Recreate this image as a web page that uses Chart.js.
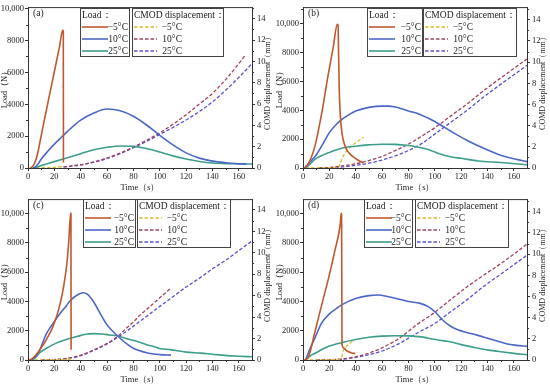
<!DOCTYPE html>
<html>
<head>
<meta charset="utf-8">
<script src="https://cdn.jsdelivr.net/npm/chart.js@4.4.1/dist/chart.umd.min.js"></script>
<style>
  html, body { margin: 0; padding: 0; background: #fff; }
  #wrap { position: relative; width: 550px; height: 384px; }
  canvas { position: absolute; }
</style>
</head>
<body>
<div id="wrap">
  <canvas id="chartA" width="275" height="192" style="left:0;top:0"></canvas>
  <canvas id="chartB" width="275" height="192" style="left:275px;top:0"></canvas>
  <canvas id="chartC" width="275" height="192" style="left:0;top:192px"></canvas>
  <canvas id="chartD" width="275" height="192" style="left:275px;top:192px"></canvas>
</div>
<script>
// legend labels and tick values
const tempLabels = ["\u22125°C", "10°C", "25°C"];
const timeTicks = [0, 20, 40, 60, 80, 100, 120, 140, 160];
const loadTicks = [0, 2000, 4000, 6000, 8000, 10000];
const cmodTicks = [0, 2, 4, 6, 8, 10, 12, 14];

// (a)
const aTimeM5 = [1.5,3,5,7,9,12,15,18,21,24,26.3,26.8,26.9];
const aLoadM5 = [0,60,300,800,1600,2850,4050,5250,6450,7650,8650,8600,350];
const aTimeCmodM5 = [2,10,20,27];
const aCmodM5 = [0,0.02,0.06,0.15];
const aTime10 = [4,6,8,10,15,20,25,30,40,50,60,70,80,90,100,110,120,130,140,150,160,166];
const aLoad10 = [0,100,300,550,1050,1500,1900,2300,3000,3450,3700,3600,3250,2700,2050,1450,950,620,430,330,270,250];
const aTime25 = [5,10,20,30,40,50,60,70,80,90,100,110,120,130,140,150,160,170];
const aLoad25 = [0,150,400,650,900,1150,1300,1380,1360,1220,1000,760,560,410,310,270,260,250];
const aTimeCmod10 = [27,40,55,70,80,90,100,110,120,130,140,150,160,165];
const aCmod10 = [0.1,0.3,0.75,1.4,1.97,2.6,3.3,4.1,5.0,6.0,7.0,8.3,9.8,10.6];
const aTimeCmod25 = [27,40,55,70,80,90,100,110,120,130,140,150,160,170];
const aCmod25 = [0.1,0.3,0.7,1.35,1.9,2.5,3.15,3.8,4.5,5.3,6.2,7.3,8.5,9.8];

// (b)
const bTimeM5 = [1,4,9,14,19,23,26,26.6,27,27.5,28.3,29.6,32,34.6,39.7,44.8,46];
const bLoadM5 = [0,290,1500,3700,6400,8400,9950,9900,8000,5500,3700,2400,1500,1070,670,400,355];
const bTimeCmodM5 = [2,15,27,28,30,33,38,46];
const bCmodM5 = [0,0.02,0.05,0.3,1.0,1.6,2.2,2.9];
const bTime10 = [1,5,10,15,20,25,30,35,40,50,60,65,70,75,80,87,94,100,112,125,138,150,156,163,170];
const bLoad10 = [0,380,900,1650,2450,3000,3400,3700,3950,4200,4290,4290,4230,4100,3950,3780,3500,3220,2560,1890,1330,890,730,580,440];
const bTime25 = [2,5,9,14,20,25,30,40,50,60,70,80,87,93,97,103,107,113,120,133,150,170];
const bLoad25 = [0,250,600,850,1080,1250,1390,1510,1600,1650,1640,1560,1450,1330,1220,1000,890,760,670,490,380,220];
const bTimeCmod = [12,20,30,40,50,60,70,80,90,100,112,125,137,150,160,170];
const bCmod10 = [0,0.05,0.2,0.4,0.7,1.1,1.65,2.25,3.0,3.8,4.9,6.1,7.3,8.5,9.4,10.3];
const bCmod25 = [0,0.03,0.1,0.25,0.45,0.75,1.15,1.65,2.3,3.2,4.3,5.5,6.7,7.9,8.8,9.7];

// (c)
const cTimeM5 = [1,4,9,14,19,24,27,29.5,31,32.4,32.6,32.7];
const cLoadM5 = [0,150,700,1400,2300,3700,5000,6600,8200,10050,10000,700];
const cTimeCmodM5 = [5,20,33];
const cCmodM5 = [0,0.03,0.08];
const cTime10 = [3,6,9,14,19,24,29,32,38,42,45,50,55,60,65,68,75,80,90,100,108.5];
const cLoad10 = [0,250,700,1800,2500,3150,3700,4050,4480,4600,4500,3950,3150,2400,1900,1640,1100,800,500,370,330];
const cTime25 = [3,6,9,14,19,24,29,37,44,50,56,62,68,75,83,90,96,100,108,120,131,140,151,160,170];
const cLoad25 = [0,200,510,800,1050,1250,1400,1600,1760,1800,1780,1710,1640,1450,1270,1050,910,790,710,540,470,390,300,260,220];
const cTimeCmod10 = [10,20,30,40,50,60,68,75,80,86,90,100,108.5];
const cCmod10 = [0,0.04,0.15,0.45,0.95,1.55,2.2,3.0,3.55,4.3,4.7,5.8,6.7];
const cTimeCmod25 = [10,20,30,40,50,60,68,75,86,100,110,120,131,140,150,160,170];
const cCmod25 = [0,0.04,0.15,0.4,0.9,1.5,2.1,2.7,3.7,5.0,5.9,6.8,7.7,8.5,9.3,10.2,11.1];

// (d)
const dTimeM5 = [1,4,9,14,19.4,24.5,28.3,29,29.3,29.6,30.8,32.5,34.6,37,39.7];
const dLoadM5 = [0,180,1900,3700,5600,7600,9300,10050,9900,1100,840,680,560,480,440];
const dTimeCmodM5 = [5,15,28,29.6,31,33,36,38.5];
const dCmodM5 = [0,0.02,0.08,0.4,1.0,1.3,1.6,1.9];
const dTime10 = [2,5,9,14,20,25,30,40,50,57,65,74,80,89,95,100,107,112,118,125,132,140,148,155,162,170];
const dLoad10 = [0,700,1500,2500,3150,3500,3800,4200,4400,4440,4320,4130,4000,3870,3650,3310,2650,2310,2050,1870,1700,1490,1280,1090,1000,930];
const dTime25 = [2,5,10,15,20,30,40,50,60,70,80,90,95,107,115,120,130,140,150,160,170];
const dLoad25 = [0,250,500,750,950,1200,1400,1550,1630,1660,1650,1580,1490,1310,1180,1050,860,690,560,450,360];
const dTimeCmod = [10,20,30,40,50,60,67,74,86,100,112,125,137,150,160,170];
const dCmod10 = [0,0.03,0.1,0.3,0.65,1.15,1.6,2.14,3.3,4.5,5.7,6.96,8.0,9.1,10.0,10.95];
const dCmod25 = [0,0.02,0.08,0.25,0.5,0.85,1.2,1.62,2.5,3.45,4.55,5.74,6.95,8.1,9.0,9.9];

const loadColors = ["#c0582f", "#4b67c7", "#3d9e8c"];
const cmodColors = ["#d6bb2a", "#a0405e", "#5a4fd4"];
const serif = "'Liberation Serif', 'Times New Roman', serif";
const axisColor = "#333";

function series(times, values, color, axis, dashed) {
  return {
    data: times.map((t, i) => ({ x: t, y: values[i] })),
    borderColor: color,
    borderWidth: dashed ? 1.3 : 1.6,
    borderDash: dashed ? [3.5, 2] : [],
    pointRadius: 0,
    fill: false,
    yAxisID: axis,
    cubicInterpolationMode: "monotone"
  };
}

function fixedTicks(values) {
  return scale => { scale.ticks = values.map(v => ({ value: v })); };
}

// top frame line, minor ticks, panel letter, right title, boxed legends
const decorPlugin = {
  id: "decor",
  afterDraw(chart, args, opts) {
    const ctx = chart.ctx;
    const a = chart.chartArea;
    const sx = chart.scales.x, sy = chart.scales.y, sy1 = chart.scales.y1;
    ctx.save();
    ctx.strokeStyle = axisColor;
    ctx.lineWidth = 1;
    ctx.beginPath();
    ctx.moveTo(a.left, a.top + 0.5);
    ctx.lineTo(a.right, a.top + 0.5);
    // minor ticks
    for (let v = 10; v < 170; v += 20) {
      const px = Math.round(sx.getPixelForValue(v)) + 0.5;
      ctx.moveTo(px, a.bottom); ctx.lineTo(px, a.bottom + 2);
    }
    for (let v = 1000; v < sy.max; v += 2000) {
      const py = Math.round(sy.getPixelForValue(v)) + 0.5;
      ctx.moveTo(a.left, py); ctx.lineTo(a.left - 2, py);
    }
    for (let v = 1; v < sy1.max; v += 2) {
      const py = Math.round(sy1.getPixelForValue(v)) + 0.5;
      ctx.moveTo(a.right, py); ctx.lineTo(a.right + 2, py);
    }
    ctx.stroke();

    ctx.fillStyle = "#222";
    ctx.font = "9.5px " + serif;
    ctx.textBaseline = "middle";
    ctx.textAlign = "left";
    ctx.fillText(opts.letter, a.left + 5, 13);

    // right axis title, reading bottom to top
    ctx.save();
    ctx.translate(268, (a.top + a.bottom) / 2 - 6);
    ctx.rotate(-Math.PI / 2);
    ctx.textAlign = "center";
    ctx.font = "8px " + serif;
    ctx.fillText("COMD displacement\uff08mm\uff09", 0, 0);
    ctx.restore();

    // legends
    const top = opts.top, h = 48;
    const L = opts.loadLeft, LW = opts.loadWidth;
    const C = opts.cmodLeft, CW = opts.cmodWidth;
    ctx.fillStyle = "#fff";
    ctx.fillRect(L, top, LW, h);
    ctx.fillRect(C, top, CW, h);
    ctx.strokeStyle = "#444";
    ctx.strokeRect(L + 0.5, top + 0.5, LW, h);
    ctx.strokeRect(C + 0.5, top + 0.5, CW, h);
    ctx.fillStyle = "#222";
    ctx.font = "9.5px " + serif;
    ctx.textAlign = "left";
    ctx.fillText("Load\uff1a", L + 2, top + 7.5);
    ctx.fillText("CMOD displacement\uff1a", C + 2, top + 7.5);
    for (let i = 0; i < 3; i++) {
      const ry = top + 19 + i * 12;
      ctx.setLineDash([]);
      ctx.lineWidth = 1.6;
      ctx.strokeStyle = loadColors[i];
      ctx.beginPath();
      ctx.moveTo(L + 2, ry); ctx.lineTo(L + 28, ry);
      ctx.stroke();
      ctx.setLineDash([3.5, 2]);
      ctx.lineWidth = 1.4;
      ctx.strokeStyle = cmodColors[i];
      ctx.beginPath();
      ctx.moveTo(C + 2, ry); ctx.lineTo(C + 25, ry);
      ctx.stroke();
      ctx.setLineDash([]);
      ctx.textAlign = "right";
      ctx.fillStyle = "#222";
      ctx.fillText(tempLabels[i], L + LW - 1, ry);
      ctx.fillText(tempLabels[i], C + 50, ry);
    }
    ctx.restore();
  }
};

function makeChart(id, letter, sets, loadMax, cmodMax, legend) {
  const tickFont = { family: serif, size: 8.5 };
  const titleFont = { family: serif, size: 8.5, lineHeight: 1 };
  const gridOpts = { drawOnChartArea: false, tickLength: 3, color: axisColor };
  return new Chart(document.getElementById(id), {
    type: "line",
    data: { datasets: sets },
    options: {
      responsive: false,
      animation: false,
      layout: { padding: { top: 2, left: 0, right: 0, bottom: 0 } },
      plugins: {
        legend: { display: false },
        tooltip: { enabled: false },
        decor: Object.assign({ letter: letter }, legend)
      },
      scales: {
        x: {
          type: "linear", min: 0, max: 170,
          afterBuildTicks: fixedTicks(timeTicks),
          afterFit: s => { s.height = 24; },
          ticks: { maxRotation: 0, padding: 1, font: tickFont, color: "#222" },
          grid: gridOpts,
          border: { color: axisColor },
          title: { display: true, text: "Time\uff08s\uff09", font: titleFont, color: "#222", padding: 0 }
        },
        y: {
          position: "left", min: 0, max: loadMax,
          afterBuildTicks: fixedTicks(loadTicks),
          afterFit: s => { s.width = 28; },
          ticks: {
            padding: 1, font: tickFont, color: "#222",
            callback: v => v === 10000 ? "10,000" : String(v)
          },
          grid: gridOpts,
          border: { color: axisColor },
          title: { display: true, text: "Load\uff08N\uff09", font: titleFont, color: "#222", padding: { top: 0.5, bottom: 0 } }
        },
        y1: {
          position: "right", min: 0, max: cmodMax,
          afterBuildTicks: fixedTicks(cmodTicks),
          afterFit: s => { s.width = 23; },
          ticks: { padding: 2, font: tickFont, color: "#222" },
          grid: gridOpts,
          border: { color: axisColor }
        }
      }
    },
    plugins: [decorPlugin]
  });
}

function panelSets(tM5, lM5, tcM5, cM5, t10, l10, t25, l25, tc10, c10, tc25, c25) {
  return [
    series(tM5, lM5, loadColors[0], "y", false),
    series(t10, l10, loadColors[1], "y", false),
    series(t25, l25, loadColors[2], "y", false),
    series(tcM5, cM5, cmodColors[0], "y1", true),
    series(tc10, c10, cmodColors[1], "y1", true),
    series(tc25, c25, cmodColors[2], "y1", true)
  ];
}

makeChart("chartA", "(a)",
  panelSets(aTimeM5, aLoadM5, aTimeCmodM5, aCmodM5, aTime10, aLoad10, aTime25, aLoad25, aTimeCmod10, aCmod10, aTimeCmod25, aCmod25),
  10100, 15.1, { top: 8, loadLeft: 80, loadWidth: 49, cmodLeft: 132, cmodWidth: 91 });

makeChart("chartB", "(b)",
  panelSets(bTimeM5, bLoadM5, bTimeCmodM5, bCmodM5, bTime10, bLoad10, bTime25, bLoad25, bTimeCmod, bCmod10, bTimeCmod, bCmod25),
  11150, 15.2, { top: 8, loadLeft: 92, loadWidth: 55, cmodLeft: 148, cmodWidth: 93 });

makeChart("chartC", "(c)",
  panelSets(cTimeM5, cLoadM5, cTimeCmodM5, cCmodM5, cTime10, cLoad10, cTime25, cLoad25, cTimeCmod10, cCmod10, cTimeCmod25, cCmod25),
  11000, 15.0, { top: 7, loadLeft: 83, loadWidth: 52, cmodLeft: 137, cmodWidth: 93 });

makeChart("chartD", "(d)",
  panelSets(dTimeM5, dLoadM5, dTimeCmodM5, dCmodM5, dTime10, dLoad10, dTime25, dLoad25, dTimeCmod, dCmod10, dTimeCmod, dCmod25),
  11000, 15.2, { top: 7, loadLeft: 89, loadWidth: 48, cmodLeft: 140, cmodWidth: 93 });
</script>
</body>
</html>
